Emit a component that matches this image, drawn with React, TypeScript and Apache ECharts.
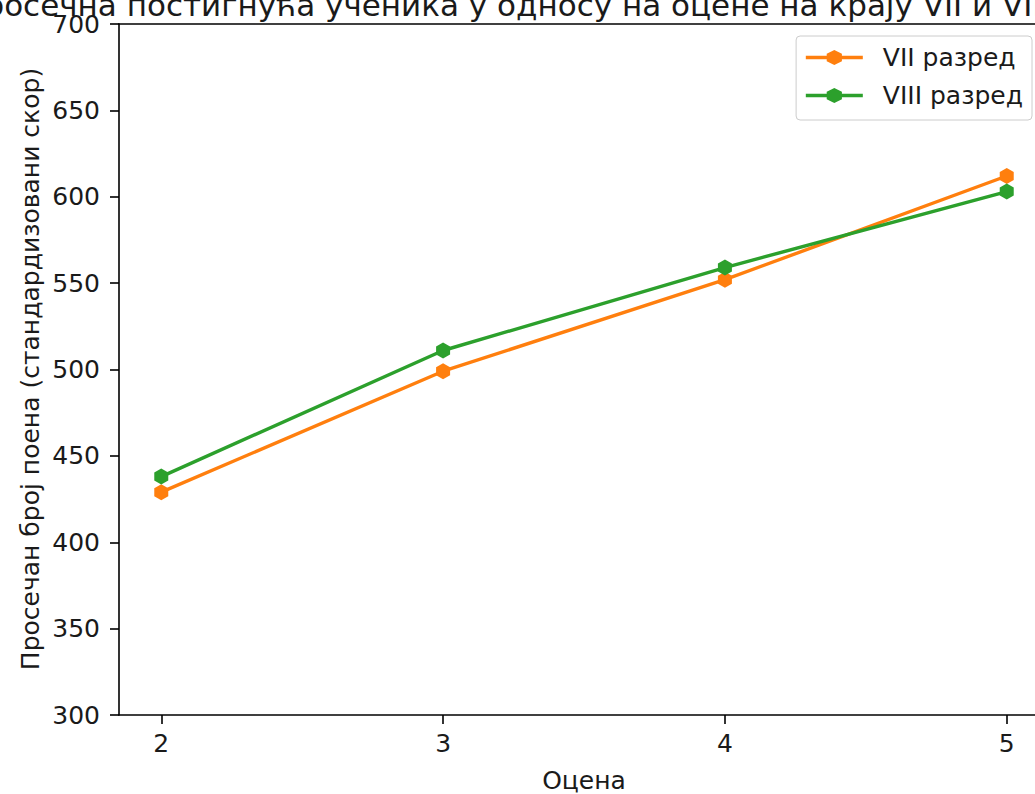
import React, { useEffect, useRef } from "react";
import * as echarts from "echarts";

const grades = [2, 3, 4, 5];
const grade7 = [429, 499, 552, 612];
const grade8 = [438, 511, 559, 603];
const seriesNames = ["VII разред", "VIII разред"];
const yTicks = [300, 350, 400, 450, 500, 550, 600, 650, 700];

const titleText = "Просечна постигнућа ученика у односу на оцене на крају VII и VIII разреда";
const yLabel = "Просечан број поена (стандардизовани скор)";
const xLabel = "Оцена";

const FONT = "DejaVu Sans";
const hexagon = "path://M0,-1 L0.866,-0.5 L0.866,0.5 L0,1 L-0.866,0.5 L-0.866,-0.5 Z";

export default function App() {
  const ref = useRef<HTMLDivElement>(null);
  useEffect(() => {
    document.body.style.margin = "0";
    if (!ref.current) return;
    const chart = echarts.init(ref.current, undefined, { renderer: "svg" });
    const textColor = "#1a1a1a";
    chart.setOption({
      animation: false,
      backgroundColor: "#ffffff",
      grid: {
        left: 119,
        top: 24,
        right: -14,
        bottom: 79,
        outerBoundsMode: "none",
        containLabel: false,
      },
      xAxis: [
        {
          type: "value",
          min: 1.85,
          max: 5.15,
          splitLine: { show: false },
          axisLine: { show: true, lineStyle: { color: "#000", width: 1.6 } },
          axisTick: {
            show: true,
            inside: false,
            length: 9,
            lineStyle: { color: "#000", width: 1.6 },
            customValues: grades,
          },
          axisLabel: {
            show: true,
            margin: 16,
            fontFamily: FONT,
            fontSize: 25,
            color: textColor,
            customValues: grades,
            formatter: (v: number) => String(v),
          },
          name: xLabel,
          nameLocation: "middle",
          nameGap: 53,
          nameTextStyle: { fontFamily: FONT, fontSize: 25, color: textColor },
        },
        {
          type: "value",
          position: "top",
          min: 1.85,
          max: 5.15,
          splitLine: { show: false },
          axisLine: { show: true, lineStyle: { color: "#000", width: 1.6 } },
          axisTick: { show: false },
          axisLabel: { show: false },
        },
      ],
      yAxis: {
        type: "value",
        min: 300,
        max: 700,
        interval: 50,
        splitLine: { show: false },
        axisLine: { show: true, lineStyle: { color: "#000", width: 1.6 } },
        axisTick: {
          show: true,
          inside: false,
          length: 9,
          lineStyle: { color: "#000", width: 1.6 },
        },
        axisLabel: {
          margin: 19,
          fontFamily: FONT,
          fontSize: 25,
          color: textColor,
          customValues: yTicks,
        },
      },
      legend: {
        data: seriesNames,
        orient: "vertical",
        right: 3,
        top: 36,
        backgroundColor: "#ffffff",
        borderColor: "#cccccc",
        borderWidth: 1,
        borderRadius: 4,
        padding: [9, 9, 12, 8],
        itemWidth: 57,
        itemHeight: 19,
        itemGap: 13,
        lineStyle: { width: 3.4 },
        textStyle: {
          fontFamily: FONT,
          fontSize: 25,
          color: textColor,
          padding: [0, 0, 0, 15],
        },
      },
      graphic: [
        {
          type: "text",
          x: 578,
          y: 20,
          style: {
            text: titleText,
            fontFamily: FONT,
            fontSize: 31,
            fill: textColor,
            align: "center",
            verticalAlign: "bottom",
          },
        },
        {
          type: "text",
          x: 30,
          y: 369,
          rotation: Math.PI / 2,
          style: {
            text: yLabel,
            fontFamily: FONT,
            fontSize: 25,
            fill: textColor,
            align: "center",
            verticalAlign: "middle",
          },
        },
      ],
      series: [
        {
          name: seriesNames[0],
          type: "line",
          data: grades.map((g, i) => [g, grade7[i]]),
          symbol: hexagon,
          symbolSize: [14, 16],
          lineStyle: { color: "#ff7f0e", width: 3.4 },
          itemStyle: { color: "#ff7f0e" },
          z: 3,
        },
        {
          name: seriesNames[1],
          type: "line",
          data: grades.map((g, i) => [g, grade8[i]]),
          symbol: hexagon,
          symbolSize: [14, 16],
          lineStyle: { color: "#2ca02c", width: 3.4 },
          itemStyle: { color: "#2ca02c" },
          z: 4,
        },
      ],
    });
    return () => chart.dispose();
  }, []);
  return <div ref={ref} style={{ width: 1035, height: 794 }} />;
}
